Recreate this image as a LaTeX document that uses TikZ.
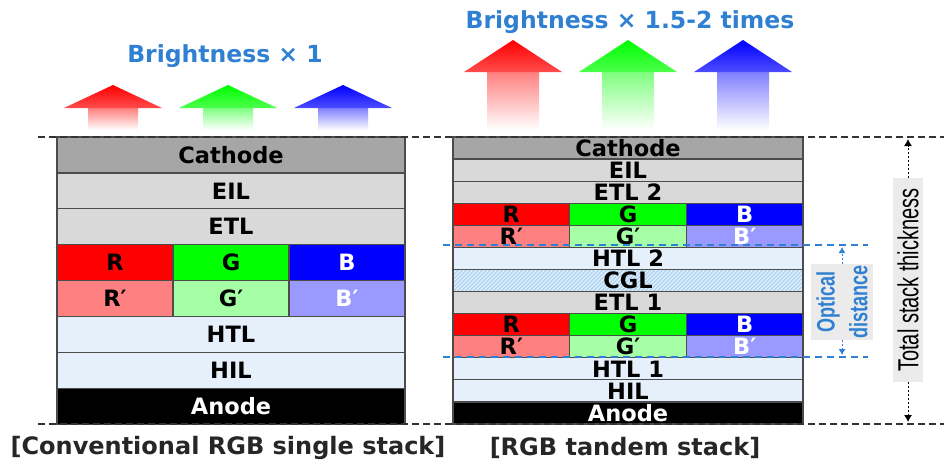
\documentclass[tikz,border=0pt]{standalone}
\usepackage{fontspec}
\setmainfont{DejaVu Sans}
\newfontfamily\arialfont{Liberation Sans}
\usetikzlibrary{arrows.meta,positioning}
\definecolor{cathodegray}{HTML}{A6A6A6}
\definecolor{etlgray}{HTML}{D9D9D9}
\definecolor{htlblue}{HTML}{E6F0FA}
\definecolor{cglblue}{HTML}{B0D4F2}
\definecolor{emR}{HTML}{FF0000}
\definecolor{emG}{HTML}{00FF00}
\definecolor{emB}{HTML}{0000FF}
\definecolor{emRp}{HTML}{FF8080}
\definecolor{emGp}{HTML}{A6FFA6}
\definecolor{emBp}{HTML}{9999FF}
\definecolor{capblue}{HTML}{2F80D2}
\definecolor{tagbg}{HTML}{EBEBEB}
\tikzset{
  lyr/.style={rectangle, draw=black!70, line width=1.2pt, inner sep=0pt, outer sep=0pt,
              font=\fontsize{22.5}{22.5}\selectfont\bfseries, minimum width=348pt, minimum height=35.9pt},
  lyrT/.style={lyr, minimum width=350pt, minimum height=22.08pt},
  cell/.style={lyr, minimum width=116pt},
  cellT/.style={lyrT, minimum width=116.67pt},
  hatched/.style={fill=cglblue, path picture={
      \foreach \k in {-30,-26,...,360}
        \draw[white!70!cglblue, line width=1pt] ([xshift=\k pt]path picture bounding box.south west) -- ++(30pt,30pt);}},
  capt/.style={font=\fontsize{23.5}{23.5}\selectfont\bfseries, text=capblue, inner sep=0pt},
  stackname/.style={font=\fontsize{24}{24}\selectfont\bfseries, text=black!85, inner sep=0pt},
  guide/.style={draw=black!80, line width=1.6pt, dash pattern=on 7pt off 4pt},
  optline/.style={draw=capblue, line width=1.3pt, dash pattern=on 7pt off 5pt},
  opttag/.style={fill=tagbg, text=capblue, align=center, inner xsep=1pt, inner ysep=4pt,
                 font=\arialfont\fontsize{18}{23.5}\selectfont\bfseries},
  totaltag/.style={fill=tagbg, inner xsep=10pt, inner ysep=3pt,
                   font=\arialfont\fontsize{20}{20}\selectfont},
  optarr/.style={draw=capblue, line width=1pt, dash pattern=on 2.5pt off 1.5pt,
                 -{Latex[length=6pt,width=7pt]}},
  totarr/.style={draw=black, line width=1pt, dash pattern=on 2.5pt off 1.5pt,
                 -{Latex[length=7pt,width=8pt]}},
}
\begin{document}
\begin{tikzpicture}[x=1pt,y=-1pt]
\useasboundingbox (0,0) rectangle (944,467);
\foreach \cx/\col in {113/emR, 228/emG, 343/emB}{
  \shade[top color=\col!50, bottom color=white] (\cx-25,108) rectangle (\cx+25,130);
  \shade[top color=\col, bottom color=\col!70] (\cx-49,108) -- (\cx,85) -- (\cx+49,108) -- cycle;
}
\foreach \cx/\col in {513/emR, 628/emG, 743/emB}{
  \shade[top color=\col!50, bottom color=white] (\cx-26,72) rectangle (\cx+26,130);
  \shade[top color=\col, bottom color=\col!70] (\cx-49,72) -- (\cx,40) -- (\cx+49,72) -- cycle;
}
\node[capt] (lTitle) at (225,56) {Brightness × 1};
\node[capt] (rTitle) at (630,22) {Brightness × 1.5-2 times};

\node[lyr, fill=cathodegray, anchor=north west] (lCath) at (57,137) {Cathode};
\node[lyr, fill=etlgray, below=0pt of lCath] (lEIL) {EIL};
\node[lyr, fill=etlgray, below=0pt of lEIL] (lETL) {ETL};
\node[cell, fill=emR, below=0pt of lETL.south west, anchor=north west] (lR) {R};
\node[cell, fill=emG, right=0pt of lR] (lG) {G};
\node[cell, fill=emB, text=white, right=0pt of lG] (lB) {B};
\node[cell, fill=emRp, below=0pt of lR] (lRp) {R′};
\node[cell, fill=emGp, below=0pt of lG] (lGp) {G′};
\node[cell, fill=emBp, text=white, below=0pt of lB] (lBp) {B′};
\node[lyr, fill=htlblue, below=0pt of lGp] (lHTL) {HTL};
\node[lyr, fill=htlblue, below=0pt of lHTL] (lHIL) {HIL};
\node[lyr, fill=black, text=white, below=0pt of lHIL] (lAnode) {Anode};

\node[lyrT, fill=cathodegray, anchor=north west] (rCath) at (453,137) {Cathode};
\node[lyrT, fill=etlgray, below=0pt of rCath] (rEIL) {EIL};
\node[lyrT, fill=etlgray, below=0pt of rEIL] (rETLb) {ETL 2};
\node[cellT, fill=emR, below=0pt of rETLb.south west, anchor=north west] (rRb) {R};
\node[cellT, fill=emG, right=0pt of rRb] (rGb) {G};
\node[cellT, fill=emB, text=white, right=0pt of rGb] (rBb) {B};
\node[cellT, fill=emRp, below=0pt of rRb] (rRpb) {R′};
\node[cellT, fill=emGp, below=0pt of rGb] (rGpb) {G′};
\node[cellT, fill=emBp, text=white, below=0pt of rBb] (rBpb) {B′};
\node[lyrT, fill=htlblue, below=0pt of rGpb] (rHTLb) {HTL 2};
\node[lyrT, hatched, below=0pt of rHTLb] (rCGL) {CGL};
\node[lyrT, fill=etlgray, below=0pt of rCGL] (rETLa) {ETL 1};
\node[cellT, fill=emR, below=0pt of rETLa.south west, anchor=north west] (rRa) {R};
\node[cellT, fill=emG, right=0pt of rRa] (rGa) {G};
\node[cellT, fill=emB, text=white, right=0pt of rGa] (rBa) {B};
\node[cellT, fill=emRp, below=0pt of rRa] (rRpa) {R′};
\node[cellT, fill=emGp, below=0pt of rGa] (rGpa) {G′};
\node[cellT, fill=emBp, text=white, below=0pt of rBa] (rBpa) {B′};
\node[lyrT, fill=htlblue, below=0pt of rGpa] (rHTLa) {HTL 1};
\node[lyrT, fill=htlblue, below=0pt of rHTLa] (rHIL) {HIL};
\node[lyrT, fill=black, text=white, below=0pt of rHIL] (rAnode) {Anode};

\draw[guide] (38,137) -- (944,137);
\draw[guide] (38,424) -- (944,424);
\draw[optline] (443,245) -- (868,245);
\draw[optline] (443,357) -- (868,357);

\node[opttag, rotate=90, yscale=1.4, transform shape] (optLbl) at (842,302) {Optical\\distance};
\coordinate (optTop) at (842,247);
\coordinate (optBot) at (842,355);
\draw[optarr] (optLbl.east) -- (optTop);
\draw[optarr] (optLbl.west) -- (optBot);

\node[totaltag, rotate=90, yscale=1.45, transform shape] (totLbl) at (908,280) {Total stack thickness};
\coordinate (totTop) at (908,139);
\coordinate (totBot) at (908,422);
\draw[totarr] (totLbl.east) -- (totTop);
\draw[totarr] (totLbl.west) -- (totBot);

\node[stackname] (lName) at (228,448) {[Conventional RGB single stack]};
\node[stackname] (rName) at (625,448) {[RGB tandem stack]};
\end{tikzpicture}
\end{document}
